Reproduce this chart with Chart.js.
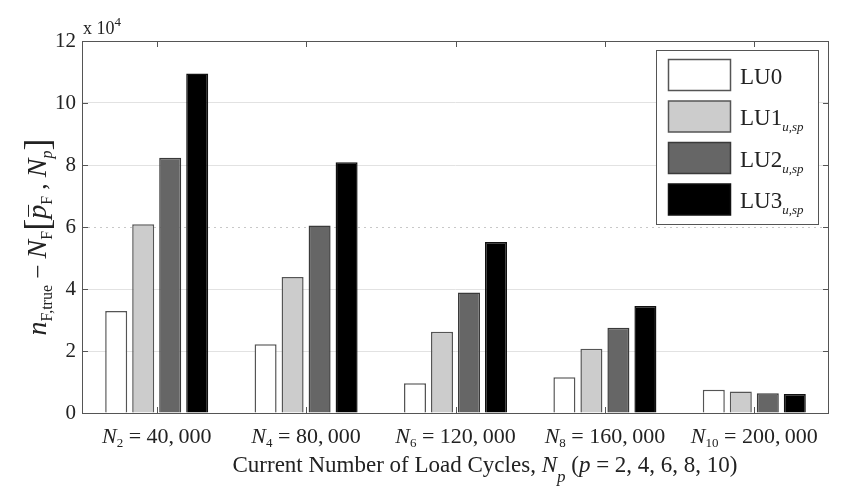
<!DOCTYPE html>
<html><head><meta charset="utf-8">
<script src="https://cdn.jsdelivr.net/npm/chart.js@4.4.1/dist/chart.umd.min.js"></script>
<style>html,body{margin:0;padding:0;background:#fff;}#wrap{width:841px;height:488px;}</style>
</head><body><div id="wrap"><canvas id="c" width="841" height="488"></canvas></div>
<script>
// ---- data ----
const pIndex = ['2', '4', '6', '8', '10'];
const cycleCounts = ['40,000', '80,000', '120,000', '160,000', '200,000'];
const seriesNames = ['LU0', 'LU1', 'LU2', 'LU3'];
const seriesSubs = ['', 'u,sp', 'u,sp', 'u,sp'];
const lu0 = [3.29, 2.22, 0.96, 1.15, 0.75];
const lu1 = [6.09, 4.39, 2.62, 2.07, 0.69];
const lu2 = [8.23, 6.05, 3.89, 2.75, 0.64];
const lu3 = [10.95, 8.09, 5.52, 3.45, 0.61];
const yTicks = [0, 2, 4, 6, 8, 10, 12];
const yExponent = '4';

// ---- styles ----
const fills = ['#ffffff', '#cccccc', '#666666', '#000000'];
const edges = ['#555555', '#555555', '#3a3a3a', '#111111'];
const SERIF = '"Liberation Serif", "DejaVu Serif", serif';
const AX = '#555555';

function drawSegs(ctx, segs, x, y, align) {
  let w = 0;
  segs.forEach(s => { ctx.font = s.font; w += ctx.measureText(s.t).width; });
  let cx = align === 'center' ? x - w / 2 : x;
  segs.forEach(s => {
    ctx.font = s.font;
    const sw = ctx.measureText(s.t).width;
    ctx.fillText(s.t, cx, y + (s.dy || 0));
    if (s.overline) {
      ctx.save(); ctx.lineWidth = 1; ctx.strokeStyle = ctx.fillStyle;
      ctx.beginPath(); ctx.moveTo(cx + 2, y - 17.5); ctx.lineTo(cx + sw, y - 17.5); ctx.stroke();
      ctx.restore();
    }
    cx += sw;
  });
}

const decor = {
  id: 'decor',
  beforeDatasetsDraw(chart) {
    const ctx = chart.ctx, a = chart.chartArea, y = chart.scales.y;
    const py = Math.round(y.getPixelForValue(6)) + 0.5;
    ctx.save();
    ctx.strokeStyle = '#c8c8c8'; ctx.lineWidth = 1; ctx.setLineDash([2, 4]);
    ctx.beginPath(); ctx.moveTo(a.left, py); ctx.lineTo(a.right, py); ctx.stroke();
    ctx.restore();
  },
  afterDatasetsDraw(chart) {
    const ctx = chart.ctx, a = chart.chartArea, x = chart.scales.x, y = chart.scales.y;
    ctx.save();
    // frame
    ctx.strokeStyle = AX; ctx.lineWidth = 1;
    ctx.strokeRect(Math.round(a.left) + 0.5, Math.round(a.top) + 0.5,
      Math.round(a.right - a.left) - 1, Math.round(a.bottom - a.top));
    // inward ticks
    ctx.beginPath();
    yTicks.forEach(v => {
      const p = Math.round(y.getPixelForValue(v)) + 0.5;
      ctx.moveTo(a.left, p); ctx.lineTo(a.left + 6, p);
      ctx.moveTo(a.right, p); ctx.lineTo(a.right - 6, p);
    });
    pIndex.forEach((c, i) => {
      const p = Math.round(x.getPixelForValue(i)) + 0.5;
      ctx.moveTo(p, a.bottom); ctx.lineTo(p, a.bottom - 6);
      ctx.moveTo(p, a.top); ctx.lineTo(p, a.top + 6);
    });
    ctx.stroke();

    ctx.fillStyle = '#222'; ctx.textBaseline = 'alphabetic';
    // x category labels
    pIndex.forEach((c, i) => {
      const cx = x.getPixelForValue(i);
      drawSegs(ctx, [
        { t: 'N', font: 'italic 22px ' + SERIF },
        { t: c, font: '13px ' + SERIF, dy: 4 },
        { t: ' = ' + cycleCounts[i].replace(',', ',\u2009'), font: '22px ' + SERIF }
      ], cx, 443, 'center');
    });
    // x title
    drawSegs(ctx, [
      { t: 'Current Number of Load Cycles, ', font: '23px ' + SERIF },
      { t: 'N', font: 'italic 23px ' + SERIF },
      { t: 'p', font: 'italic 17px ' + SERIF, dy: 10 },
      { t: ' (', font: '23px ' + SERIF },
      { t: 'p', font: 'italic 23px ' + SERIF },
      { t: ' = 2, 4, 6, 8, 10)', font: '23px ' + SERIF }
    ], 485, 472, 'center');
    // exponent
    drawSegs(ctx, [
      { t: 'x 10', font: '18px ' + SERIF },
      { t: yExponent, font: '13px ' + SERIF, dy: -8 }
    ], a.left + 1, 34, 'left');
    // y title
    ctx.save();
    ctx.translate(46, 237); ctx.rotate(-Math.PI / 2);
    drawSegs(ctx, [
      { t: 'n', font: 'italic 28px ' + SERIF },
      { t: 'F,true', font: '16px ' + SERIF, dy: 6 },
      { t: ' \u2212 ', font: '25px ' + SERIF },
      { t: 'N', font: 'italic 28px ' + SERIF },
      { t: 'F', font: '16px ' + SERIF, dy: 6 },
      { t: '[', font: '36px ' + SERIF, dy: 3 },
      { t: 'p', font: 'italic 28px ' + SERIF, overline: true },
      { t: 'F', font: '16px ' + SERIF, dy: 6 },
      { t: ' , ', font: '25px ' + SERIF },
      { t: 'N', font: 'italic 28px ' + SERIF },
      { t: 'p', font: 'italic 16px ' + SERIF, dy: 6 },
      { t: ']', font: '36px ' + SERIF, dy: 3 }
    ], 0, 0, 'center');
    ctx.restore();

    // legend
    const L = { x: 656.5, y: 50.5, w: 162, h: 174 };
    ctx.fillStyle = '#fff'; ctx.fillRect(L.x, L.y, L.w, L.h);
    ctx.strokeStyle = AX; ctx.strokeRect(L.x, L.y, L.w, L.h);
    seriesNames.forEach((n, i) => {
      const sy = L.y + 9 + i * 41.5;
      ctx.fillStyle = fills[i]; ctx.fillRect(668.5, sy, 62, 31);
      ctx.strokeStyle = edges[i]; ctx.lineWidth = 1.5; ctx.strokeRect(668.5, sy, 62, 31);
      ctx.fillStyle = '#222';
      drawSegs(ctx, [
        { t: n, font: '23px ' + SERIF },
        { t: seriesSubs[i], font: 'italic 13px ' + SERIF, dy: 6 }
      ], 740, sy + 24, 'left');
    });
    ctx.restore();
  }
};

const datasets = [lu0, lu1, lu2, lu3].map((d, i) => ({
  label: seriesNames[i] + (seriesSubs[i] ? '_' + seriesSubs[i] : ''),
  data: d,
  backgroundColor: fills[i],
  borderColor: edges[i],
  borderWidth: 1.5,
  categoryPercentage: 0.723,
  barPercentage: 0.815
}));

new Chart(document.getElementById('c'), {
  type: 'bar',
  data: { labels: pIndex.map((p, i) => 'N' + p + ' = ' + cycleCounts[i]), datasets },
  plugins: [decor],
  options: {
    responsive: false, animation: false, devicePixelRatio: 1,
    layout: { padding: { left: 0, top: 41, right: 12, bottom: 0 } },
    plugins: { legend: { display: false }, tooltip: { enabled: false } },
    scales: {
      x: {
        ticks: { display: false },
        grid: { display: false },
        border: { display: false },
        afterFit: s => { s.height = 75; }
      },
      y: {
        min: 0, max: 12,
        afterBuildTicks: s => { s.ticks = yTicks.map(v => ({ value: v })); },
        afterFit: s => { s.width = 82; },
        ticks: { font: { family: SERIF, size: 21 }, color: '#222', padding: 6 },
        grid: {
          drawTicks: false,
          color: c => (c.tick && (c.tick.value === 6 || c.tick.value === 0 || c.tick.value === 12)) ? 'rgba(0,0,0,0)' : '#e2e2e2'
        },
        border: { display: false }
      }
    }
  }
});
</script>
</body></html>
